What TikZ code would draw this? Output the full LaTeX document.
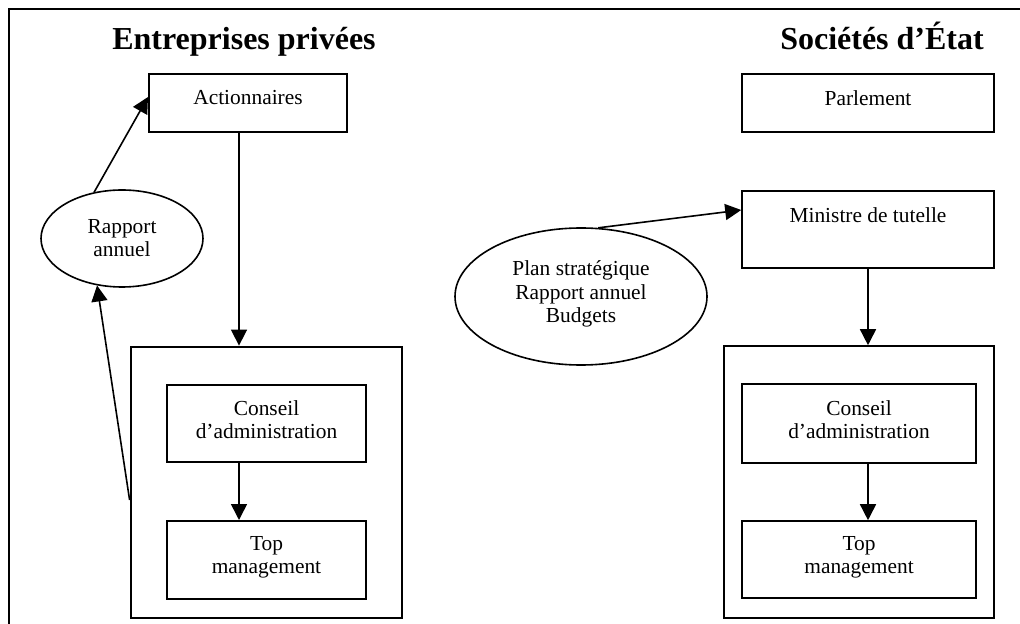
\documentclass[tikz,border=0pt]{standalone}
\usepackage{fontspec}
\setmainfont{Liberation Serif}
\usetikzlibrary{shapes.geometric,arrows.meta}
\tikzset{
  frameline/.style={line width=1pt},
  boxL/.style={draw, rectangle, inner sep=0pt, line width=1pt},
  boxLout/.style={draw, rectangle, inner sep=0pt, line width=1.4pt},
  boxR/.style={draw, rectangle, inner sep=0pt, line width=0.8pt},
  ell/.style={draw, ellipse, inner sep=0pt, line width=0.8pt},
  txt/.style={inner sep=0pt, align=center, font=\fontsize{10.7}{11.6}\selectfont},
  ttl/.style={inner sep=0pt, anchor=base, font=\fontsize{16}{19}\selectfont\bfseries},
  arr/.style={-{Triangle[length=8pt,width=8pt]}, line width=0.8pt},
}
\begin{document}
\begin{tikzpicture}[x=0.5pt,y=-0.5pt]
\useasboundingbox (0,0) rectangle (1020,624);
\fill[white] (0,0) rectangle (1020,624);
% outer frame (only top and left edges visible)
\draw[frameline] (9,624) -- (9,9) -- (1020,9);

% titles
\node[ttl] (t1) at (244,50) {Entreprises privées};
\node[ttl] (t2) at (882,50) {Sociétés d’État};

% left side
\node[boxL, minimum width=99pt, minimum height=29pt] (act) at (248,103) {};
\node[txt] (tact) at (248,98) {Actionnaires};
\node[boxLout, minimum width=135.5pt, minimum height=135.5pt] (lbox) at (266.5,482.5) {};
\node[boxL, minimum width=99.5pt, minimum height=38.5pt] (lcons) at (266.5,423.5) {};
\node[txt] (tlcons) at (266.5,420) {Conseil\\d’administration};
\node[boxL, minimum width=99.5pt, minimum height=39pt] (ltop) at (266.5,560) {};
\node[txt] (tltop) at (266.5,557) {Top\\management};
\node[ell, minimum width=81pt, minimum height=48.5pt] (rap) at (122,238.5) {};
\node[txt] (trap) at (122,238) {Rapport\\annuel};

\coordinate (xl) at (239,0);
\coordinate (yl1) at (0,97);
\coordinate (yl2) at (0,500);
\draw[arr] (act.south -| xl) -- (lbox.north -| xl);
\draw[arr] (lcons.south -| xl) -- (ltop.north -| xl);
\draw[arr] (rap.121) -- (act.west |- yl1);
\draw[arr] (lbox.west |- yl2) -- (rap.242);

% right side
\node[boxR, minimum width=126pt, minimum height=29pt] (parl) at (868,103) {};
\node[txt] (tparl) at (868,98) {Parlement};
\node[boxR, minimum width=126pt, minimum height=38.5pt] (min) at (868,229.5) {};
\node[txt] (tmin) at (868,215) {Ministre de tutelle};
\node[boxR, minimum width=135pt, minimum height=136pt] (rbox) at (859,482) {};
\node[boxR, minimum width=117pt, minimum height=39.5pt] (rcons) at (859,423.5) {};
\node[txt] (trcons) at (859,420) {Conseil\\d’administration};
\node[boxR, minimum width=117pt, minimum height=38.5pt] (rtop) at (859,559.5) {};
\node[txt] (trtop) at (859,557) {Top\\management};
\node[ell, minimum width=126pt, minimum height=68.5pt] (plan) at (581,296.5) {};
\node[txt] (tplan) at (581,294) {Plan stratégique\\Rapport annuel\\Budgets};

\coordinate (xr) at (868,0);
\coordinate (yr1) at (0,210);
\draw[arr] (min.south -| xr) -- (rbox.north -| xr);
\draw[arr] (rcons.south -| xr) -- (rtop.north -| xr);
\draw[arr] (plan.76) -- (min.west |- yr1);
\end{tikzpicture}
\end{document}
